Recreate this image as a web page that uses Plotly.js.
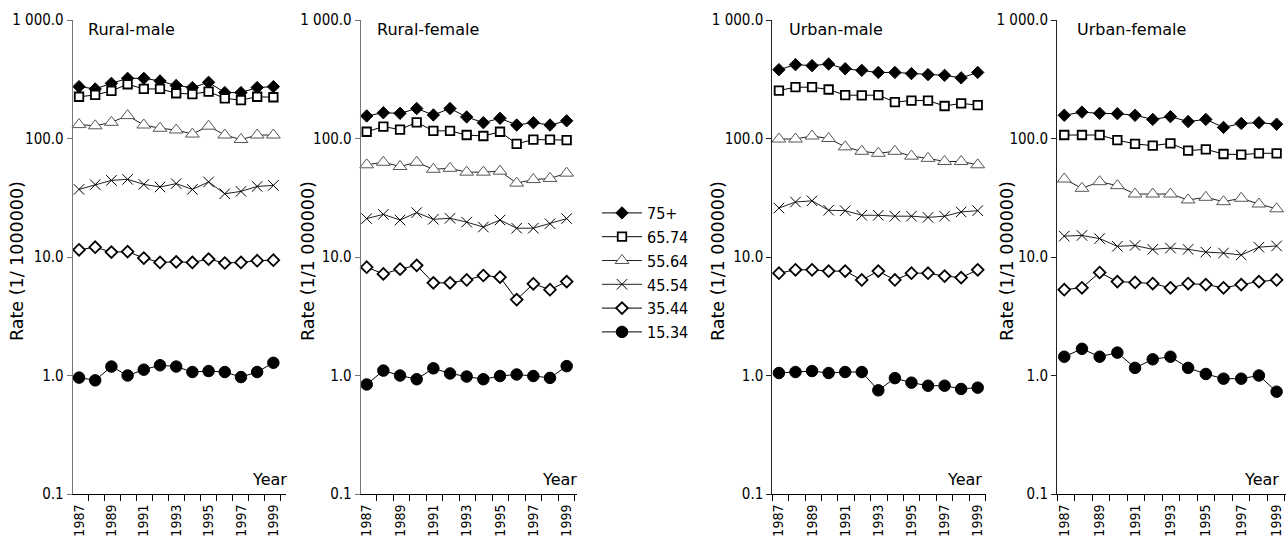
<!DOCTYPE html>
<html>
<head>
<meta charset="utf-8">
<script src="https://cdn.plot.ly/plotly-3.0.1.min.js"></script>
<style>
html,body{margin:0;padding:0;background:#fff;}
#chart{width:1287px;height:537px;}
</style>
</head>
<body>
<div id="chart"></div>
<script>
// ---- data ----
const years = [1987, 1988, 1989, 1990, 1991, 1992, 1993, 1994, 1995, 1996, 1997, 1998, 1999];
const groupNames = ["75+", "65.74", "55.64", "45.54", "35.44", "15.34"];
const panelTitles = ["Rural-male", "Rural-female", "Urban-male", "Urban-female"];
const yTitles = ["Rate (1/ 1000000)", "Rate (1/1 000000)", "Rate (1/1 000000)", "Rate (1/1 000000)"];
const xTitle = "Year";
const yTickVals = [0.1, 1, 10, 100, 1000];
const yTickText = ["0.1", "1.0", "10.0", "100.0", "1 000.0"];
const xTickVals = [1987, 1989, 1991, 1993, 1995, 1997, 1999];
const xTickText = ["1987", "1989", "1991", "1993", "1995", "1997", "1999"];

// Rural-male
const rm75 = [274, 262, 292, 322, 322, 306, 280, 269, 298, 244, 244, 269, 274];
const rm65 = [225, 233, 252, 287, 262, 262, 241, 237, 249, 218, 211, 225, 223];
const rm55 = [131, 128, 137, 156, 130, 122, 118, 109, 127, 107, 98, 107, 107];
const rm45 = [37.2, 40.8, 44.3, 45.2, 41, 39, 41.6, 37.2, 43, 34.2, 35.8, 39.4, 40.2];
const rm35 = [11.5, 12.1, 11.0, 11.1, 9.8, 9.0, 9.1, 9.0, 9.6, 8.9, 9.0, 9.3, 9.4];
const rm15 = [0.96, 0.91, 1.19, 1.0, 1.12, 1.22, 1.19, 1.07, 1.09, 1.07, 0.97, 1.07, 1.28];
// Rural-female
const rf75 = [155, 165, 163, 179, 158, 179, 152, 136, 148, 130, 136, 130, 141];
const rf65 = [114, 126, 119, 137, 116, 116, 107, 105, 114, 90, 98, 98, 97];
const rf55 = [60, 63, 58, 63, 55, 56, 52, 52, 53, 42, 45, 46, 51];
const rf45 = [21.1, 22.9, 20.5, 23.7, 20.8, 21.2, 19.7, 17.9, 20.5, 17.5, 17.5, 19.1, 21.1];
const rf35 = [8.2, 7.2, 7.9, 8.5, 6.05, 6.05, 6.4, 6.98, 6.76, 4.37, 5.94, 5.3, 6.2];
const rf15 = [0.84, 1.10, 1.0, 0.93, 1.15, 1.04, 0.98, 0.93, 0.99, 1.02, 0.99, 0.955, 1.20];
// Urban-male
const um75 = [381, 420, 412, 425, 388, 376, 361, 361, 353, 346, 341, 325, 361];
const um65 = [254, 271, 271, 259, 232, 231, 232, 203, 209, 209, 188, 198, 191];
const um55 = [99, 99, 105, 100, 85, 78, 75, 78, 71, 68, 64, 64, 60];
const um45 = [25.9, 29.1, 29.8, 24.8, 24.6, 22.5, 22.5, 22.1, 22.1, 21.6, 22.1, 24.0, 24.6];
const um35 = [7.3, 7.8, 7.8, 7.6, 7.6, 6.4, 7.6, 6.4, 7.3, 7.3, 6.9, 6.7, 7.8];
const um15 = [1.05, 1.07, 1.09, 1.05, 1.07, 1.07, 0.75, 0.95, 0.87, 0.82, 0.82, 0.77, 0.79];
// Urban-female
const uf75 = [157, 167, 163, 162, 157, 145, 153, 139, 145, 124, 134, 136, 132];
const uf65 = [107, 107, 107, 97, 90, 87, 91, 79, 81, 74, 73, 75, 75];
const uf55 = [45.5, 38, 43.2, 40, 34, 34, 34, 30.3, 31.9, 29.3, 31.3, 28, 25.5];
const uf45 = [15, 15.2, 14.3, 12.3, 12.5, 11.6, 11.9, 11.6, 11.0, 10.8, 10.4, 12.1, 12.4];
const uf35 = [5.3, 5.5, 7.4, 6.2, 6.1, 5.97, 5.5, 5.97, 5.85, 5.5, 5.85, 6.2, 6.4];
const uf15 = [1.44, 1.68, 1.44, 1.56, 1.16, 1.37, 1.44, 1.16, 1.03, 0.94, 0.94, 1.0, 0.73];

const panelData = [
  [rm75, rm65, rm55, rm45, rm35, rm15],
  [rf75, rf65, rf55, rf45, rf35, rf15],
  [um75, um65, um55, um45, um35, um15],
  [uf75, uf65, uf55, uf45, uf35, uf15]
];

// ---- styles ----
const W = 1287, H = 537;
const markerStyles = [
  {symbol: "diamond", size: 9.5, color: "#000", line: {color: "#000", width: 1}},
  {symbol: "square", size: 8.5, color: "#fff", line: {color: "#000", width: 1.8}},
  {symbol: "triangle-up", size: 12, color: "#fff", line: {color: "#555", width: 1}},
  {symbol: "x-thin", size: 10.5, color: "#000", line: {color: "#000", width: 1}},
  {symbol: "diamond", size: 9, color: "#fff", line: {color: "#000", width: 1.8}},
  {symbol: "circle", size: 11.5, color: "#000", line: {color: "#000", width: 1}}
];
const lineColors = ["#000", "#000", "#222", "#222", "#000", "#000"];

// panel geometry in pixels
const panelPx = [[72.7, 286], [360.7, 577], [772.3, 986], [1057, 1286]];
const panelRange = [[1986.61, 1999.78], [1986.64, 1999.62], [1986.60, 1999.50], [1986.59, 1999.53]];
const yDomain = [(H - 494) / H, (H - 20) / H];
const yAxisColor = ["#777", "#777", "#222", "#222"];
const titlePx = [86, 375, 787.3, 1075.3];
const yTitlePx = [17, 308, 718, 1007];
const yearPx = [289, 579, 984, 1281];

const tickFont = {family: "DejaVu Sans Condensed, Liberation Sans, sans-serif", size: 15, color: "#000"};
const xTickFont = {family: "DejaVu Sans Condensed, Liberation Sans, sans-serif", size: 14, color: "#000"};

const traces = [];
const layout = {
  width: W, height: H,
  margin: {l: 0, r: 0, t: 0, b: 0, pad: 0},
  paper_bgcolor: "#fff", plot_bgcolor: "#fff",
  showlegend: true,
  legend: {
    x: 597 / W, y: (H - 196) / H, xanchor: "left", yanchor: "top",
    font: {family: "DejaVu Sans Condensed, Liberation Sans, sans-serif", size: 16, color: "#000"},
    bgcolor: "rgba(0,0,0,0)", borderwidth: 0, tracegroupgap: 0, itemwidth: 40
  },
  annotations: []
};

panelData.forEach((series, p) => {
  const xa = p === 0 ? "x" : "x" + (p + 1);
  const ya = p === 0 ? "y" : "y" + (p + 1);
  series.forEach((vals, s) => {
    traces.push({
      type: "scatter", mode: "lines+markers",
      x: years, y: vals, name: groupNames[s],
      xaxis: xa, yaxis: ya,
      showlegend: p === 0,
      line: {color: lineColors[s], width: 1},
      marker: markerStyles[s],
      cliponaxis: false
    });
  });
  const xKey = p === 0 ? "xaxis" : "xaxis" + (p + 1);
  const yKey = p === 0 ? "yaxis" : "yaxis" + (p + 1);
  layout[xKey] = {
    domain: [panelPx[p][0] / W, panelPx[p][1] / W],
    range: panelRange[p], anchor: ya,
    showgrid: false, zeroline: false, showline: true, linecolor: "#000", linewidth: 1,
    tickmode: "array", tickvals: xTickVals, ticktext: xTickText, tickangle: -90,
    ticks: "outside", ticklen: 4, tickcolor: "rgba(0,0,0,0)",
    tickfont: xTickFont,
    minor: {tickmode: "linear", tick0: 1986.6, dtick: 0.99, ticks: "outside", ticklen: 6, tickcolor: "#000", tickwidth: 1, showgrid: false}
  };
  layout[yKey] = {
    domain: yDomain, type: "log", range: [-1, 3], anchor: xa,
    showgrid: false, zeroline: false, showline: true, linecolor: yAxisColor[p], linewidth: 1,
    tickmode: "array", tickvals: yTickVals, ticktext: yTickText,
    ticks: "outside", ticklen: 5, tickcolor: yAxisColor[p],
    tickfont: tickFont
  };
  layout.annotations.push({
    text: panelTitles[p], xref: "paper", yref: "paper",
    x: titlePx[p] / W, y: (H - 29) / H, xanchor: "left", yanchor: "middle",
    showarrow: false, font: {family: "DejaVu Sans, sans-serif", size: 16, color: "#000"}
  });
  layout.annotations.push({
    text: yTitles[p], xref: "paper", yref: "paper", textangle: -90,
    x: yTitlePx[p] / W, y: (H - 261) / H, xanchor: "center", yanchor: "middle",
    showarrow: false, font: {family: "DejaVu Sans, sans-serif", size: 17.5, color: "#000"}
  });
  layout.annotations.push({
    text: xTitle, xref: "paper", yref: "paper",
    x: yearPx[p] / W, y: (H - 479) / H, xanchor: "right", yanchor: "middle",
    showarrow: false, font: {family: "DejaVu Sans, sans-serif", size: 16, color: "#000"}
  });
});

Plotly.newPlot("chart", traces, layout, {staticPlot: true, displayModeBar: false});
</script>
</body>
</html>
